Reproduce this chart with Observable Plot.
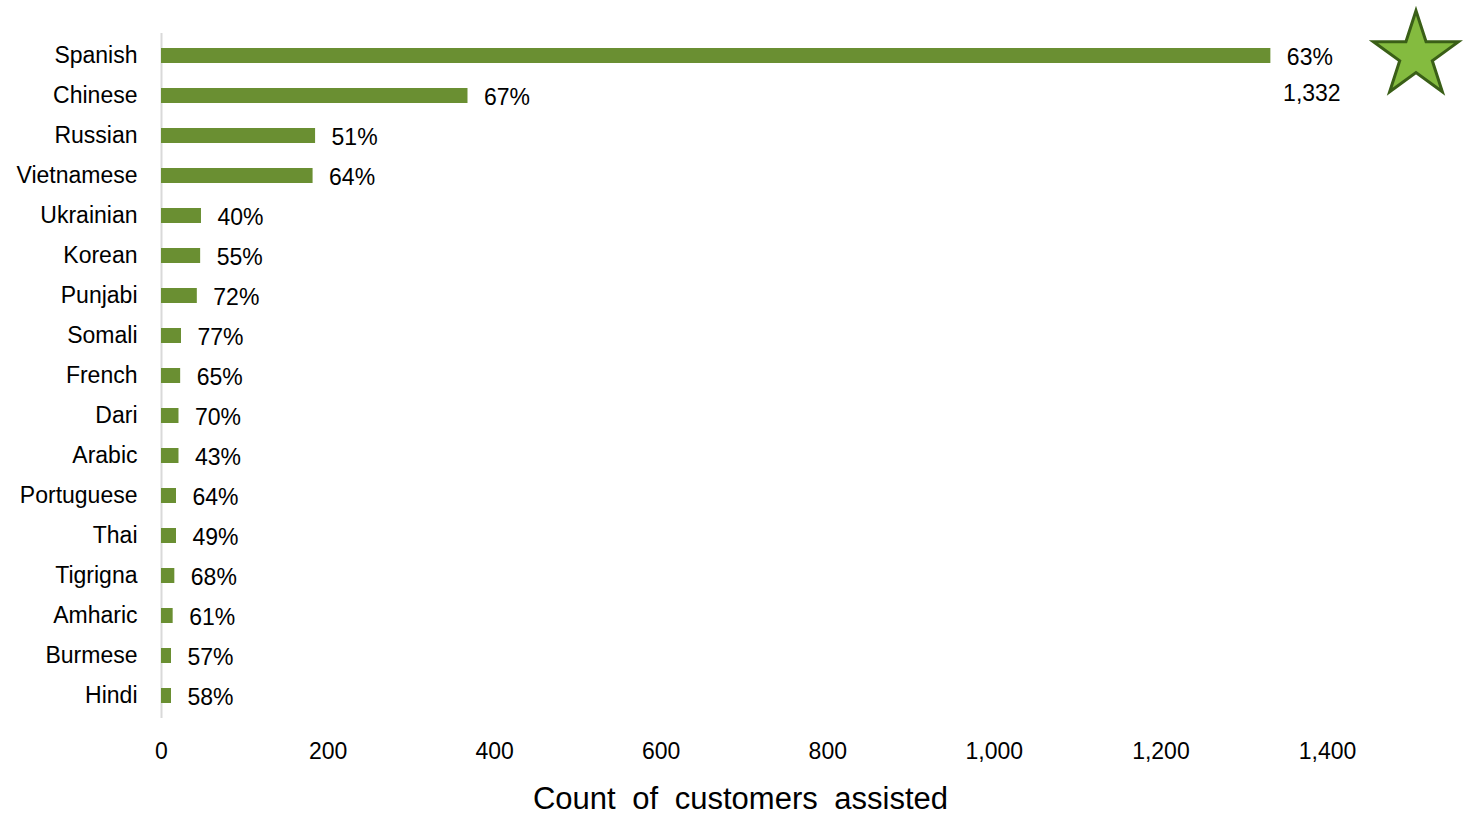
<!DOCTYPE html>
<html>
<head>
<meta charset="utf-8">
<script src="https://cdn.jsdelivr.net/npm/d3@7"></script>
<script src="https://cdn.jsdelivr.net/npm/@observablehq/plot@0.6"></script>
<style>
  html, body { margin: 0; padding: 0; background: #fff; }
  #chart svg { display: block; }
</style>
</head>
<body>
<div id="chart"></div>
<script>
const languages = ["Spanish","Chinese","Russian","Vietnamese","Ukrainian","Korean","Punjabi","Somali","French","Dari","Arabic","Portuguese","Thai","Tigrigna","Amharic","Burmese","Hindi"];
const counts = [1332,368,185,182,48,47,43,24,23,21,21,18,18,16,14,12,12];
const percents = [63,67,51,64,40,55,72,77,65,70,43,64,49,68,61,57,58];
const xTicks = [0,200,400,600,800,1000,1200,1400];
const axisTitle = "Count of customers assisted";

const data = languages.map((lang, i) => ({lang, count: counts[i], pct: percents[i]}));
const fmt = d3.format(",");
const font = "'Liberation Sans', Arial, 'Helvetica Neue', sans-serif";

const chart = Plot.plot({
  width: 1463,
  height: 815,
  marginLeft: 161,
  marginRight: 136,
  marginTop: 33,
  marginBottom: 97,
  style: {fontFamily: font, fontSize: "23px", color: "#000", background: "#fff"},
  x: {domain: [0, 1400], ticks: xTicks, tickFormat: fmt},
  y: {domain: languages, paddingInner: 0.63, paddingOuter: 0.315},
  marks: [
    Plot.ruleX([0], {stroke: "#d9d9d9", strokeWidth: 2}),
    Plot.barX(data, {x: "count", y: "lang", fill: "#6a8f32"}),
    Plot.text(data, {x: "count", y: "lang", text: d => d.pct + "%", textAnchor: "start", dx: 16, dy: 2, fontSize: 23, fill: "#000"}),
    Plot.text(data.filter(d => d.lang === "Spanish"), {x: "count", y: "lang", text: d => fmt(d.count), textAnchor: "middle", dx: 41, dy: 38, fontSize: 23, fill: "#000"}),
    Plot.axisX({ticks: xTicks, tickFormat: fmt, tickSize: 0, tickPadding: 24, fontSize: 23, label: null}),
    Plot.axisY({tickSize: 0, tickPadding: 24, fontSize: 23, label: null}),
    Plot.text([axisTitle], {frameAnchor: "bottom", text: d => d, dx: -4, dy: 81, lineAnchor: "middle", fontSize: 31, fill: "#000"}),
    Plot.dot([0], {frameAnchor: "top-right", symbol: "star", r: 26.8, dx: 88.5, dy: 22, fill: "#84bb3f", stroke: "#3a5f17", strokeWidth: 3})
  ]
});

d3.select(chart).selectAll("text").filter(function() { return this.textContent === axisTitle; }).style("word-spacing", "8px");
document.getElementById("chart").appendChild(chart);
</script>
</body>
</html>
